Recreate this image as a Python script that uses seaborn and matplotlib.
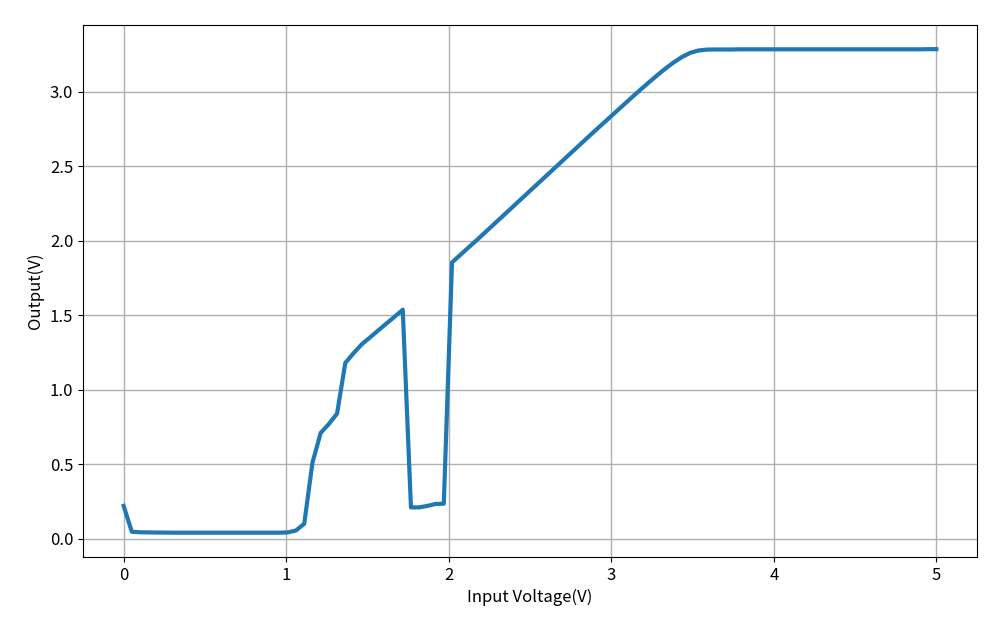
import numpy as np
import pandas as pd
import matplotlib
matplotlib.use("Agg")
import matplotlib.pyplot as plt
import seaborn as sns

# Input voltage sweep: 100 points from 0 V to 5 V
input_voltage = np.linspace(0, 5, 100)

# Output voltage (one value per sweep point)
output_low = [0.22, 0.046, 0.043, 0.042, 0.041, 0.041, 0.040, 0.040, 0.040, 0.040,
              0.040, 0.040, 0.040, 0.040, 0.040, 0.040, 0.040, 0.040, 0.040, 0.040]
output_transition = [0.042, 0.055, 0.10, 0.51, 0.71, 0.77, 0.84, 1.18, 1.245, 1.305,
                     1.351, 1.398, 1.444, 1.49, 1.537, 0.21, 0.21, 0.22, 0.233, 0.235]
output_ramp = [1.855, 1.905, 1.955, 2.004, 2.055, 2.106, 2.157, 2.208, 2.259, 2.310,
               2.361, 2.412, 2.463, 2.514, 2.565, 2.616, 2.667, 2.718, 2.768, 2.818,
               2.868, 2.918, 2.968, 3.017, 3.065, 3.112, 3.157, 3.198, 3.234, 3.262]
output_saturated = [3.278, 3.284, 3.285, 3.285, 3.285, 3.286, 3.286, 3.286, 3.286, 3.286,
                    3.286, 3.286, 3.286, 3.286, 3.286, 3.286, 3.286, 3.286, 3.286, 3.286,
                    3.286, 3.286, 3.286, 3.286, 3.286, 3.286, 3.286, 3.286, 3.287, 3.287]

output_voltage = output_low + output_transition + output_ramp + output_saturated

x_label = "Input Voltage(V)"
y_label = "Output(V)"

df = pd.DataFrame({"x": input_voltage, "y": output_voltage})

plt.rcParams['font.family'] = ['Noto Sans CJK SC', 'DejaVu Sans']
plt.rcParams['axes.unicode_minus'] = False

fig, ax = plt.subplots(figsize=(10, 6.25), dpi=100)
fig.subplots_adjust(left=0.083, right=0.977, top=0.96, bottom=0.109)

sns.lineplot(data=df, x="x", y="y", ax=ax, color="#1f77b4", linewidth=3)

ax.grid(True, color="#b0b0b0", linewidth=1)
ax.set_axisbelow(True)
ax.set_xlabel(x_label, fontsize=12)
ax.set_ylabel(y_label, fontsize=12)
ax.tick_params(labelsize=12)

fig.savefig("out.png", dpi=100)
